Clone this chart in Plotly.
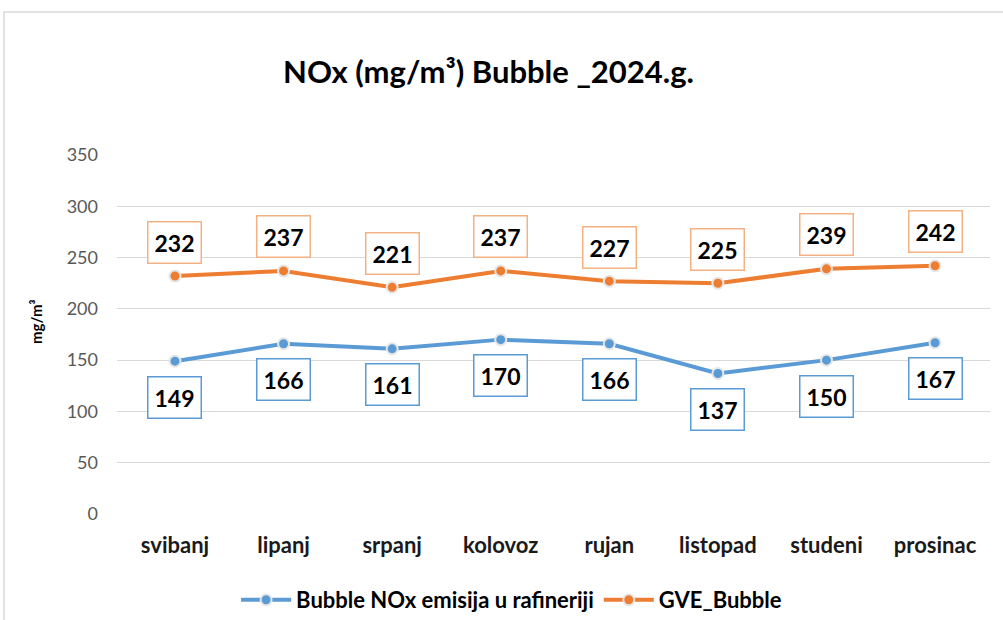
import plotly.graph_objects as go

months = ["svibanj", "lipanj", "srpanj", "kolovoz", "rujan", "listopad", "studeni", "prosinac"]
bubble_nox = [149, 166, 161, 170, 166, 137, 150, 167]
gve_bubble = [232, 237, 221, 237, 227, 225, 239, 242]
y_ticks = [0, 50, 100, 150, 200, 250, 300, 350]

BLUE = "#5B9BD5"
ORANGE = "#ED7D31"
FONT = "Lato"

fig = go.Figure()
fig.add_trace(go.Scatter(
    x=months, y=bubble_nox, mode="lines+markers", name="<b>Bubble NOx emisija u rafineriji</b>",
    line=dict(color=BLUE, width=4),
    marker=dict(size=11, color=BLUE, line=dict(color="#E6E6E6", width=2)),
))
fig.add_trace(go.Scatter(
    x=months, y=gve_bubble, mode="lines+markers", name="<b>GVE_Bubble</b>",
    line=dict(color=ORANGE, width=4),
    marker=dict(size=11, color=ORANGE, line=dict(color="#E6E6E6", width=2)),
))

annotations = []
for m, v in zip(months, bubble_nox):
    annotations.append(dict(
        x=m, y=v, text=f"<b>{v}</b>", showarrow=False, yshift=-36,
        font=dict(family=FONT, size=23, color="#000000"),
        bordercolor=BLUE, borderwidth=1.5, borderpad=6, bgcolor="white",
    ))
for m, v in zip(months, gve_bubble):
    annotations.append(dict(
        x=m, y=v, text=f"<b>{v}</b>", showarrow=False, yshift=34,
        font=dict(family=FONT, size=23, color="#000000"),
        bordercolor="#F4B183", borderwidth=1.5, borderpad=6, bgcolor="white",
    ))
annotations.append(dict(
    xref="paper", yref="paper", x=(36 - 117) / 873, y=(514 - 322) / 359,
    text="<b>mg/m³</b>", textangle=-90, showarrow=False, xanchor="center", yanchor="middle",
    font=dict(family=FONT, size=15, color="#000000"),
))

fig.update_layout(
    width=1003, height=620,
    margin=dict(l=117, r=13, t=155, b=106, autoexpand=False),
    paper_bgcolor="white", plot_bgcolor="white",
    title=dict(text="<b>NOx (mg/m³) Bubble _2024.g.</b>", x=0.487, xanchor="center",
               y=1 - 72 / 620, yanchor="middle",
               font=dict(family=FONT, size=31, color="#000000")),
    xaxis=dict(showgrid=False, showline=False, ticks="", automargin=False,
               tickfont=dict(family=FONT, size=22, color="#1a1a1a"),
               tickprefix="<b>", ticksuffix="</b>",
               ticklabelstandoff=16,
               range=[-0.534, 7.506]),
    yaxis=dict(range=[0, 350], tickvals=y_ticks, showgrid=True, gridcolor="#D9D9D9",
               gridwidth=1, zeroline=False, showline=False, ticks="", automargin=False,
               ticklabelstandoff=18,
               tickfont=dict(family=FONT, size=18, color="#595959")),
    legend=dict(orientation="h", x=0.452, xanchor="center", y=(514 - 600) / 359, yanchor="middle",
                font=dict(family=FONT, size=22, color="#000000"),
                itemwidth=50),
    annotations=annotations,
    shapes=[dict(type="rect", xref="paper", yref="paper",
                 x0=(4 - 117) / 873, x1=(1010 - 117) / 873,
                 y0=(514 - 630) / 359, y1=(514 - 12) / 359,
                 line=dict(color="#D9D9D9", width=1.5), fillcolor="rgba(0,0,0,0)", layer="below")],
)

fig.write_html("out.html", config={"displayModeBar": False},
               post_script="document.body.style.margin='0';")
